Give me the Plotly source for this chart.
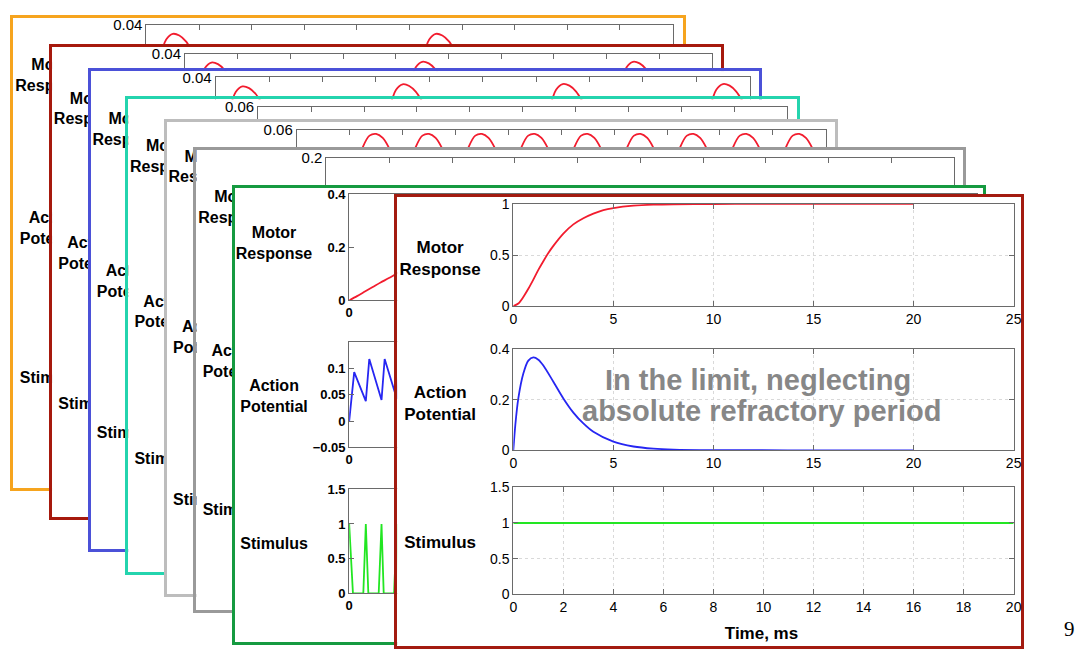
import plotly.graph_objects as go

# page is W x H; the browser body keeps its default 8 px margin, so the figure is drawn
# 8 px in from the page edge and is 16 px smaller in each direction
W, H = 1087, 662
OFF = 8
FW, FH = W - 2 * OFF, H - 2 * OFF

# ------------------------------------------------------------------ data
# Front card: limit case (continuous stimulus)
front_motor_t = [0, 0.25, 0.5, 0.75, 1.0, 1.25, 1.5, 1.75, 2.0, 2.5, 3.0, 3.5, 4.0, 4.5, 5.0, 6.0, 7.0, 8.0, 10.0, 12.0, 15.0, 20.0]
front_motor_v = [0, 0.026, 0.09, 0.17, 0.26, 0.355, 0.44, 0.52, 0.59, 0.71, 0.80, 0.86, 0.905, 0.94, 0.96, 0.983, 0.993, 0.997, 0.9995, 1.0, 1.0, 1.0]
front_ap_t = [0, 0.1, 0.25, 0.5, 0.75, 1.0, 1.25, 1.5, 2.0, 2.5, 3.0, 3.5, 4.0, 5.0, 6.0, 7.0, 8.0, 10.0, 12.0, 15.0, 20.0]
front_ap_v = [0, 0.1, 0.205, 0.303, 0.354, 0.367, 0.358, 0.335, 0.271, 0.205, 0.149, 0.106, 0.073, 0.034, 0.015, 0.0064, 0.0027, 0.0005, 0.0001, 0, 0]
front_stim_t = [0, 20]
front_stim_v = [1, 1]

# Green card (high-frequency stimulation, visible start only)
green_motor_t = [0, 0.25, 0.5, 0.75, 1.0, 1.25, 1.5, 1.75, 2.0]
green_motor_v = [0, 0.016, 0.033, 0.05, 0.067, 0.083, 0.1, 0.117, 0.133]
green_ap_t = [0, 0.16, 0.53, 0.64, 1.03, 1.13, 1.52, 1.63, 2.02]
green_ap_v = [0, 0.093, 0.038, 0.118, 0.040, 0.118, 0.042, 0.118, 0.043]
green_stim_t = [0, 0.12, 0.45, 0.53, 0.61, 0.94, 1.03, 1.1, 1.43, 1.52, 1.6, 1.93, 2.02, 2.1]
green_stim_v = [1, 0, 0, 1, 0, 0, 1, 0, 0, 1, 0, 0, 1, 0]

# Back cards: motor response (top panel)
orange_t = [0, 0.25, 0.5, 0.75, 1.0, 1.25, 1.5, 1.75, 2.0, 2.5, 3.0, 4.0, 5.0, 6.5, 8.0,
            10.0, 10.25, 10.5, 10.75, 11.0, 11.25, 11.5, 11.75, 12.0, 12.5, 13.0, 14.0, 15.0, 16.5, 18.0, 20.0]
orange_v = [0, 0.012, 0.027, 0.0345, 0.0366, 0.036, 0.0338, 0.030, 0.026, 0.018, 0.012, 0.005, 0.002, 0.0005, 0.0001,
            0.0, 0.012, 0.027, 0.0345, 0.0366, 0.036, 0.0338, 0.030, 0.026, 0.018, 0.012, 0.005, 0.002, 0.0005, 0.0001, 0.0]

darkred_t = [0, 0.25, 0.5, 0.75, 1.0, 1.25, 1.5, 2.0, 2.5, 3.0, 4.0, 5.5,
             8.0, 8.25, 8.5, 8.75, 9.0, 9.25, 9.5, 10.0, 10.5, 11.0, 12.0, 13.5,
             16.0, 16.25, 16.5, 16.75, 17.0, 17.25, 17.5, 18.0, 18.5, 19.0, 20.0]
darkred_v = [0, 0.012, 0.027, 0.0347, 0.0368, 0.0362, 0.034, 0.026, 0.018, 0.012, 0.005, 0.0012,
             0.0003, 0.0123, 0.0273, 0.035, 0.0371, 0.0365, 0.0343, 0.0263, 0.0183, 0.0123, 0.0053, 0.0015,
             0.0003, 0.0123, 0.0273, 0.035, 0.0371, 0.0365, 0.0343, 0.0263, 0.0183, 0.0123, 0.0053]

blue_t = [0, 0.25, 0.5, 0.75, 1.0, 1.25, 1.5, 1.75, 2.0, 2.5, 3.0, 4.0, 5.0,
          6.0, 6.25, 6.5, 6.75, 7.0, 7.25, 7.5, 7.75, 8.0, 8.5, 9.0, 10.0, 11.0,
          12.0, 12.25, 12.5, 12.75, 13.0, 13.25, 13.5, 13.75, 14.0, 14.5, 15.0, 16.0, 17.0,
          18.0, 18.25, 18.5, 18.75, 19.0, 19.25, 19.5, 19.75, 20.0]
blue_v = [0, 0.012, 0.027, 0.0345, 0.0366, 0.036, 0.0338, 0.030, 0.026, 0.018, 0.012, 0.005, 0.002,
          0.0008, 0.0128, 0.0278, 0.0353, 0.0374, 0.0368, 0.0346, 0.0308, 0.0268, 0.0188, 0.0128, 0.0058, 0.0028,
          0.0009, 0.0129, 0.0279, 0.0354, 0.0375, 0.0369, 0.0347, 0.0309, 0.0269, 0.0189, 0.0129, 0.0059, 0.0029,
          0.0009, 0.0129, 0.0279, 0.0354, 0.0375, 0.0369, 0.0347, 0.0309, 0.0269]

teal_t = [0, 0.5, 1.0, 1.5, 2.5, 4.0, 4.5, 5.0, 5.5, 6.5, 8.0, 8.5, 9.0, 9.5, 10.5,
          12.0, 12.5, 13.0, 13.5, 14.5, 16.0, 16.5, 17.0, 17.5, 18.5, 20.0]
teal_v = [0, 0.027, 0.0366, 0.0338, 0.020, 0.007, 0.033, 0.042, 0.039, 0.025, 0.008, 0.034, 0.043, 0.040, 0.026,
          0.008, 0.034, 0.043, 0.040, 0.026, 0.008, 0.034, 0.043, 0.040, 0.026, 0.008]

lightgray_t = [0, 0.25, 0.5, 0.75, 1.0, 1.25, 1.5, 1.75,
               2.0, 2.25, 2.5, 2.75, 3.0, 3.25, 3.5, 3.75,
               4.0, 4.25, 4.5, 4.75, 5.0, 5.25, 5.5, 5.75,
               6.0, 6.25, 6.5, 6.75, 7.0, 7.25, 7.5, 7.75,
               8.0, 8.25, 8.5, 8.75, 9.0, 9.25, 9.5, 9.75,
               10.0, 10.25, 10.5, 10.75, 11.0, 11.25, 11.5, 11.75,
               12.0, 12.25, 12.5, 12.75, 13.0, 13.25, 13.5, 13.75,
               14.0, 14.25, 14.5, 14.75, 15.0, 15.25, 15.5, 15.75,
               16.0, 16.25, 16.5, 16.75, 17.0, 17.25, 17.5, 17.75,
               18.0, 18.25, 18.5, 18.75, 19.0, 19.25, 19.5, 19.75, 20.0]
lightgray_v = [0, 0.012, 0.027, 0.0345, 0.0366, 0.0362, 0.0345, 0.032,
               0.030, 0.038, 0.0505, 0.0568, 0.0578, 0.0555, 0.0495, 0.040,
               0.030, 0.038, 0.0505, 0.0568, 0.0578, 0.0555, 0.0495, 0.040,
               0.030, 0.038, 0.0505, 0.0568, 0.0578, 0.0555, 0.0495, 0.040,
               0.030, 0.038, 0.0505, 0.0568, 0.0578, 0.0555, 0.0495, 0.040,
               0.030, 0.038, 0.0505, 0.0568, 0.0578, 0.0555, 0.0495, 0.040,
               0.030, 0.038, 0.0505, 0.0568, 0.0578, 0.0555, 0.0495, 0.040,
               0.030, 0.038, 0.0505, 0.0568, 0.0578, 0.0555, 0.0495, 0.040,
               0.030, 0.038, 0.0505, 0.0568, 0.0578, 0.0555, 0.0495, 0.040,
               0.030, 0.038, 0.0505, 0.0568, 0.0578, 0.0555, 0.0495, 0.040, 0.031]

gray_t = [0, 1, 2, 3, 4, 5, 6, 8, 10, 12, 14, 16, 18, 20]
gray_v = [0, 0.03, 0.05, 0.065, 0.075, 0.082, 0.087, 0.093, 0.096, 0.098, 0.099, 0.1, 0.1, 0.1]

# tick values / labels
back_top_yticks = [[0, 0.02, 0.04], [0, 0.02, 0.04], [0, 0.02, 0.04],
                   [0, 0.02, 0.04, 0.06], [0, 0.02, 0.04, 0.06], [0, 0.1, 0.2]]
back_top_ymax = [0.04, 0.04, 0.04, 0.06, 0.06, 0.2]
back_xticks = [0, 2, 4, 6, 8, 10, 12, 14, 16, 18, 20]
front_top_xticks = [0, 5, 10, 15, 20, 25]
front_motor_yticks = [0, 0.5, 1]
front_ap_yticks = [0, 0.2, 0.4]
stim_yticks = [0, 0.5, 1, 1.5]
green_motor_yticks = [0, 0.2, 0.4]
green_ap_yticks = [-0.05, 0, 0.05, 0.1]
panel_labels = ["Motor<br>Response", "Action<br>Potential", "Stimulus"]
note_lines = ["In the limit, neglecting", "absolute refractory period"]
page_number = "9"

# ------------------------------------------------------------------ styling / layout geometry
FONT = "Liberation Sans"
AXC = "#6a6a6a"
RED, BLUE, GREEN = "#f21c2e", "#2626f2", "#22e622"

fig = go.Figure()
layout = dict(width=FW, height=FH, margin=dict(l=0, r=0, t=0, b=0),
              paper_bgcolor="white", plot_bgcolor="white", showlegend=False,
              annotations=[])
counter = [0]


def new_ids():
    counter[0] += 1
    k = counter[0]
    s = "" if k == 1 else str(k)
    return "xaxis" + s, "yaxis" + s, "x" + s, "y" + s


def px2x(px):
    return (px - OFF) / FW


def py2y(py):
    return 1 - (py - OFF) / FH


def xdom(l, r):
    return [max(0, px2x(l)), min(1, px2x(r))]


def ydom(t, b):
    return [max(0, py2y(b)), min(1, py2y(t))]


def add_frame(color, box, label_cx, label_ys, fsize, extra=None):
    xa, ya, xr, yr = new_ids()
    l, t, r, b = box
    l, t, r, b = l + 1.5, t + 1.5, r - 1.5, b - 1.5
    common = dict(range=[0, 1], showline=True, mirror=True, linecolor=color, linewidth=3,
                  showgrid=False, zeroline=False, showticklabels=False, ticks="", fixedrange=True)
    layout[xa] = dict(domain=xdom(l, r), anchor=yr, **common)
    layout[ya] = dict(domain=ydom(t, b), anchor=xr, **common)
    xs, ys, txt = [], [], []
    for lab, cy in zip(panel_labels, label_ys):
        xs.append((label_cx - l) / (r - l))
        ys.append(1 - (cy - t) / (b - t))
        txt.append("<br>".join("<b>%s</b>" % p for p in lab.split("<br>")))
    if extra:
        for lab, cx, cy in extra:
            xs.append((cx - l) / (r - l))
            ys.append(1 - (cy - t) / (b - t))
            txt.append("<b>%s</b>" % lab)
    fig.add_trace(go.Scatter(x=xs, y=ys, mode="text", text=txt, cliponaxis=False,
                             textfont=dict(family=FONT, size=fsize, color="black"),
                             xaxis=xr, yaxis=yr, hoverinfo="skip", showlegend=False))


def add_plot(box, xrange, xticks, yrange, yticks, traces, tfont, grid=False):
    xa, ya, xr, yr = new_ids()
    l, t, r, b = box
    base = dict(showline=True, mirror="ticks", linecolor=AXC, linewidth=1, ticks="inside",
                ticklen=5, tickwidth=1, tickcolor=AXC, zeroline=False, fixedrange=True,
                tickfont=tfont, showgrid=grid, gridcolor="#d9d9d9", griddash="dot", gridwidth=1)
    layout[xa] = dict(domain=xdom(l, r), anchor=yr, range=xrange, tickmode="array",
                      tickvals=xticks, **base)
    layout[ya] = dict(domain=ydom(t, b), anchor=xr, range=yrange, tickmode="array",
                      tickvals=yticks, **base)
    for (xs, ys, color, shape) in traces:
        fig.add_trace(go.Scatter(x=xs, y=ys, mode="lines",
                                 line=dict(color=color, width=1.8, shape=shape, smoothing=0.8),
                                 xaxis=xr, yaxis=yr, hoverinfo="skip", showlegend=False))


back_cards = [
    ("#f6a41e", (8, 8, 688, 493), (69, 226, 380), (144, 16, 676, 126), orange_t, orange_v),
    ("#a6190d", (47, 37, 727, 523), (103.5, 252, 407), (183, 46, 716, 156), darkred_t, darkred_v),
    ("#4b51d8", (86, 62, 765, 556), (124.5, 281, 436), (214, 70, 754, 180), blue_t, blue_v),
    ("#24d4ae", (124, 91, 803, 579), (152, 312, 463), (257, 100, 792, 210), teal_t, teal_v),
    ("#bdbdbd", (163, 114, 842, 602), (163, 338, 505), (296, 124, 831, 234), lightgray_t, lightgray_v),
    ("#9a9a9a", (193, 143, 971, 619), (205, 363, 515), (326, 153, 961, 263), gray_t, gray_v),
]

back_font = dict(family=FONT, size=15, color="black")
for i, (color, box, lys, pbox, ts, vs) in enumerate(back_cards):
    add_frame(color, box, box[0] + 42, lys, 16)
    add_plot(pbox, [0, 20], back_xticks, [0, back_top_ymax[i]], back_top_yticks[i],
             [(ts, vs, RED, "spline")], back_font)

# green card
gfont = dict(family=FONT, size=13, color="black", weight="bold")
add_frame("#159a40", (232, 182, 992, 651), 273, (242, 399, 550), 16)
add_plot((349, 190, 984, 299), [0, 20], back_xticks, [0, 0.4], green_motor_yticks,
         [(green_motor_t, green_motor_v, RED, "spline")], gfont)
add_plot((349, 342, 984, 450), [0, 20], back_xticks, [-0.05, 0.15], green_ap_yticks,
         [(green_ap_t, green_ap_v, BLUE, "linear")], gfont)
add_plot((349, 493, 984, 600), [0, 20], back_xticks, [0, 1.5], stim_yticks,
         [(green_stim_t, green_stim_v, GREEN, "linear")], gfont)

# front card
ffont = dict(family=FONT, size=14, color="black")
add_frame("#a31b10", (396, 191, 1030, 659), 441, (257.5, 407.5, 552), 17,
          extra=[("Time, ms", 766, 646)])
add_plot((515, 200, 1021, 305), [0, 25], front_top_xticks, [0, 1], front_motor_yticks,
         [(front_motor_t, front_motor_v, RED, "spline")], ffont, grid=True)
add_plot((515, 349, 1021, 453), [0, 25], front_top_xticks, [0, 0.4], front_ap_yticks,
         [(front_ap_t, front_ap_v, BLUE, "spline")], ffont, grid=True)
add_plot((515, 491, 1021, 601), [0, 20], back_xticks, [0, 1.5], stim_yticks,
         [(front_stim_t, front_stim_v, GREEN, "linear")], ffont, grid=True)

# overlay note and page number
for txt, cx, cy in zip(note_lines, [762, 766], [381, 413]):
    layout["annotations"].append(dict(text="<b>%s</b>" % txt, x=px2x(cx), y=py2y(cy),
                                      xref="paper", yref="paper", showarrow=False,
                                      xanchor="center", yanchor="middle",
                                      font=dict(family=FONT, size=29, color="#878787")))
layout["annotations"].append(dict(text=page_number, x=px2x(1077), y=py2y(637), xref="paper", yref="paper",
                                  showarrow=False, xanchor="center", yanchor="middle",
                                  font=dict(family="Liberation Serif", size=21, color="black")))

fig.update_layout(**layout)
fig.write_html("out.html", config={"displayModeBar": False})
